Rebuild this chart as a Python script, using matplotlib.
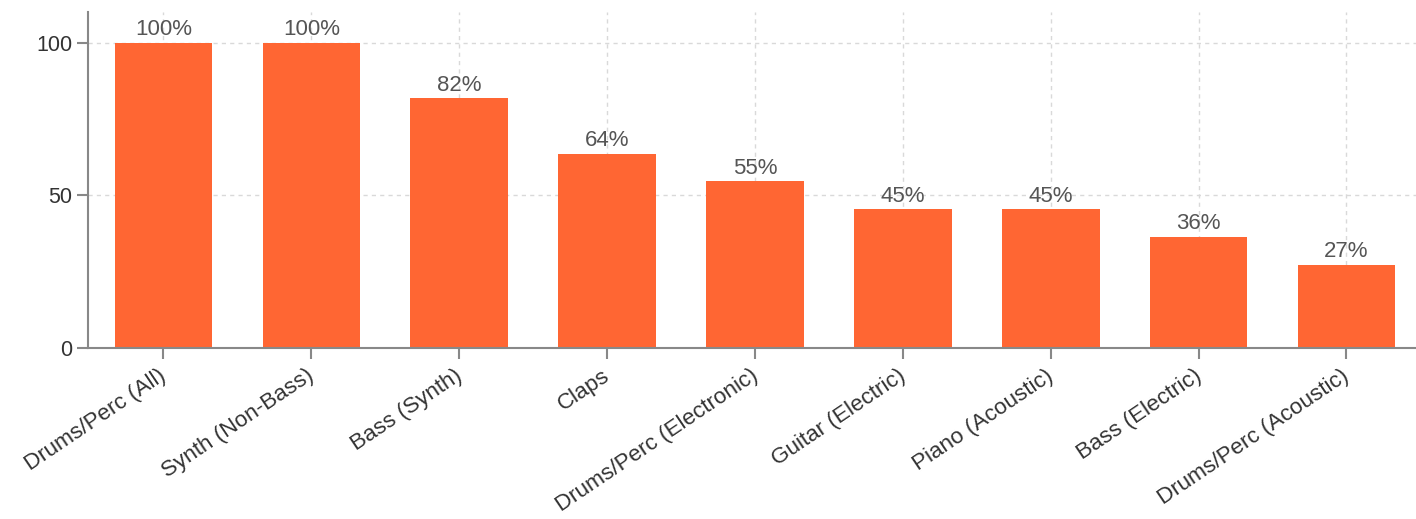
import matplotlib
matplotlib.use('Agg')
import matplotlib.pyplot as plt
import matplotlib.transforms as mtransforms
import numpy as np

plt.rcParams['font.family'] = ['Liberation Sans', 'DejaVu Sans']

categories = ['Drums/Perc (All)', 'Synth (Non-Bass)', 'Bass (Synth)', 'Claps',
              'Drums/Perc (Electronic)', 'Guitar (Electric)', 'Piano (Acoustic)',
              'Bass (Electric)', 'Drums/Perc (Acoustic)']
values = [100.0, 100.0, 81.82, 63.64, 54.55, 45.45, 45.45, 36.36, 27.27]

fig = plt.figure(figsize=(14.16, 5.19), dpi=100)
ax = fig.add_axes([88 / 1416, 1 - 348 / 519, 1 - 88 / 1416, (348 - 12) / 519])

x = np.arange(len(categories))
bars = ax.bar(x, values, width=0.66, color='#FF6633', zorder=2)

for b, v in zip(bars, values):
    ax.text(b.get_x() + b.get_width() / 2, v + 0.8, f'{v:.0f}%', ha='center', va='bottom',
            fontsize=16, color='#555555', zorder=3)

ax.set_xlim(-0.51, 8.47)
ax.set_ylim(0, 110)
ax.set_yticks([0, 50, 100])
ax.set_xticks(x)
ax.set_xticklabels(categories, rotation=34, ha='right', rotation_mode='anchor')

ax.grid(True, linestyle=(0, (3, 3)), color='#d9d9d9', linewidth=1, zorder=0)
for s in ['top', 'right']:
    ax.spines[s].set_visible(False)
for s in ['left', 'bottom']:
    ax.spines[s].set_color('#888888')
    ax.spines[s].set_linewidth(1.5)
ax.tick_params(axis='both', colors='#888888', labelcolor='#333333', labelsize=15.5,
               length=8, width=1.5)
ax.tick_params(axis='x', pad=6)
# nudge rotated labels a little left/up so the longest ones stay inside the figure
offset = mtransforms.ScaledTranslation(-0.05, 0.02, fig.dpi_scale_trans)
for lab in ax.get_xticklabels():
    lab.set_fontsize(16.2)
    lab.set_transform(lab.get_transform() + offset)

plt.savefig('out.png', dpi=100)
